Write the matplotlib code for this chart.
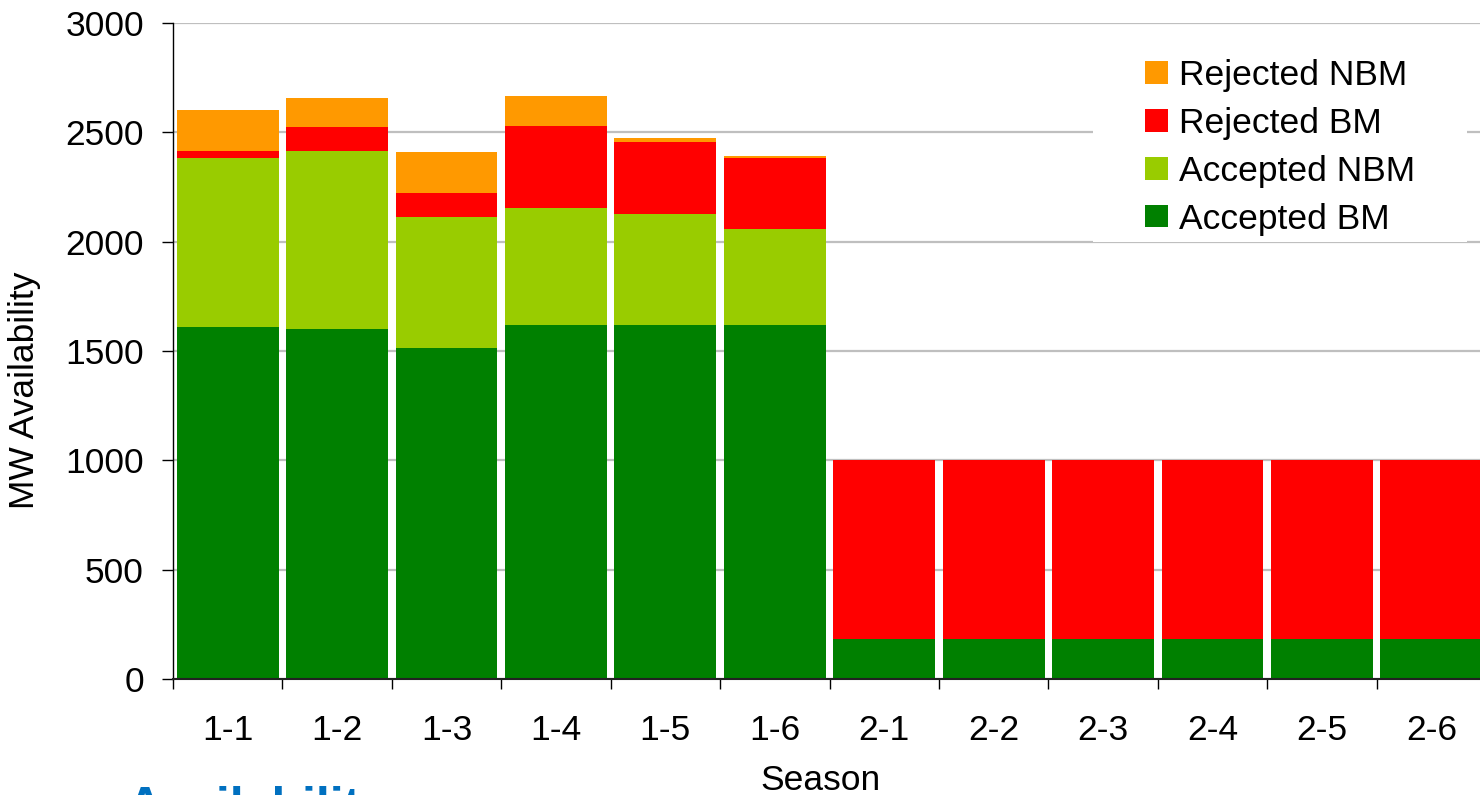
import matplotlib
matplotlib.use("Agg")
import matplotlib.pyplot as plt
from matplotlib.patches import Rectangle
import numpy as np

categories = ['1-1', '1-2', '1-3', '1-4', '1-5', '1-6',
              '2-1', '2-2', '2-3', '2-4', '2-5', '2-6']
accepted_bm = [1610, 1600, 1513, 1619, 1619, 1619, 183, 183, 183, 183, 183, 183]
accepted_nbm = [772, 814, 600, 535, 507, 439, 0, 0, 0, 0, 0, 0]
rejected_bm = [32, 110, 109, 375, 329, 324, 817, 817, 817, 817, 817, 817]
rejected_nbm = [188, 133, 188, 137, 19, 9, 0, 0, 0, 0, 0, 0]
series_names = ['Accepted BM', 'Accepted NBM', 'Rejected BM', 'Rejected NBM']
series_colors = ['#008000', '#99CC00', '#FF0000', '#FF9900']
y_ticks = [0, 500, 1000, 1500, 2000, 2500, 3000]

plt.rcParams['font.family'] = ['Liberation Sans', 'DejaVu Sans']
FS = 25.5

W, H = 1480, 795
fig = plt.figure(figsize=(W / 100, H / 100), dpi=100)
ax = fig.add_axes([173 / W, 116 / H, 1313 / W, 656 / H])

x = np.arange(len(categories))
bottom = np.zeros(len(categories))
handles = []
for name, vals, col in zip(series_names,
                           [accepted_bm, accepted_nbm, rejected_bm, rejected_nbm],
                           series_colors):
    v = np.array(vals, dtype=float)
    b = ax.bar(x, v, bottom=bottom, width=0.93, color=col, label=name,
               linewidth=0, zorder=2)
    handles.append(b)
    bottom += v

ax.set_xlim(-0.5, len(categories) - 0.5)
ax.set_ylim(0, 3000)
ax.set_yticks(y_ticks)
ax.set_yticklabels([str(t) for t in y_ticks], fontsize=FS)
ax.tick_params(axis='y', length=8, width=1, pad=13, direction='out')

# category boundaries as major ticks, labels at centres
ax.set_xticks(np.arange(-0.5, len(categories), 1.0))
ax.set_xticklabels([])
ax.set_xticks(x, minor=True)
ax.set_xticklabels(categories, minor=True, fontsize=FS)
ax.tick_params(axis='x', which='major', length=7, width=1, direction='out')
ax.tick_params(axis='x', which='minor', length=0, pad=25)

ax.grid(axis='y', color='#BFBFBF', linewidth=1.6, zorder=0)
ax.set_axisbelow(True)
for s in ['top', 'right']:
    ax.spines[s].set_visible(False)
ax.spines['left'].set_color('black')
ax.spines['left'].set_linewidth(1.0)
ax.spines['bottom'].set_color('#222222')
ax.spines['bottom'].set_linewidth(1.5)

# white legend backdrop
ax.add_patch(Rectangle((1093 / W, 1 - 242 / H), (1467 - 1093) / W, (242 - 30) / H,
                       transform=fig.transFigure, facecolor='white',
                       edgecolor='none', zorder=3))

leg = ax.legend(handles[::-1], series_names[::-1], loc='upper left',
                bbox_to_anchor=(1145 / W, 1 - 59 / H),
                bbox_transform=fig.transFigure, frameon=False,
                fontsize=FS, borderpad=0, borderaxespad=0,
                handlelength=0.65, handleheight=0.6, handletextpad=0.3,
                labelspacing=0.42)
leg.set_zorder(4)

fig.text(25 / W, 1 - 390 / H, 'MW Availability', rotation=90,
         ha='center', va='center', fontsize=FS)
fig.text(820 / W, 1 - 790 / H, 'Season', ha='center', va='baseline', fontsize=FS)
fig.text(127 / W, 1 - 822 / H, 'Availability', ha='left', va='baseline',
         fontsize=36, fontweight='bold', color='#0070C0')

fig.savefig('out.png', dpi=100)
